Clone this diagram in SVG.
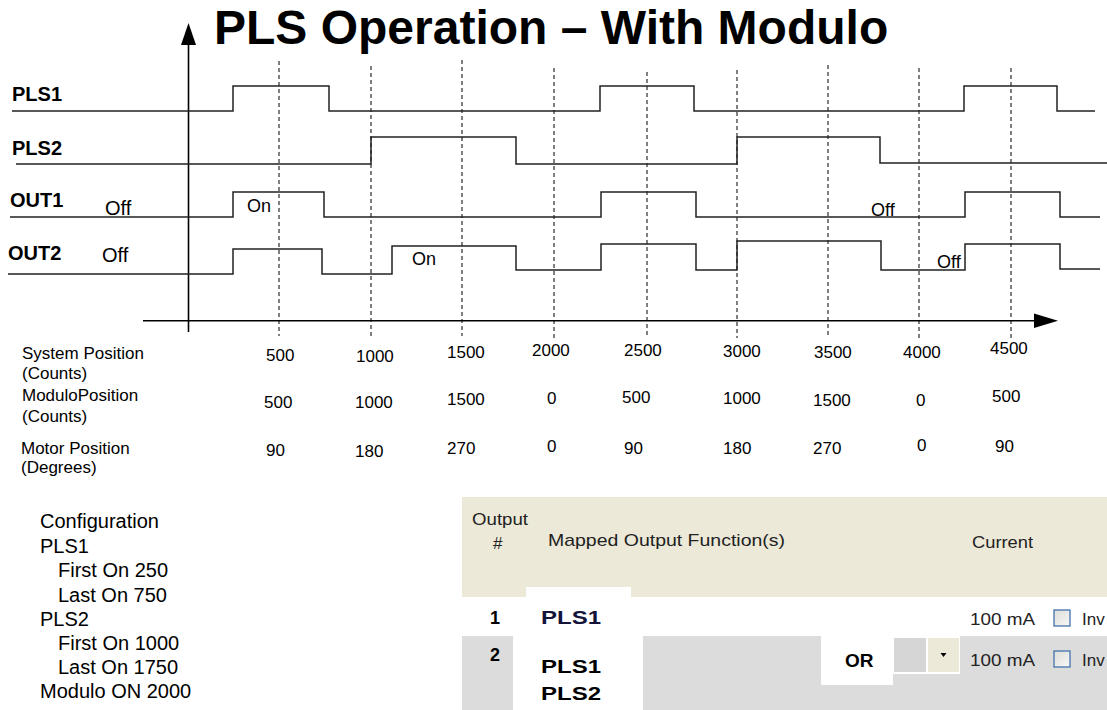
<svg xmlns="http://www.w3.org/2000/svg" width="1107" height="710" viewBox="0 0 1107 710">
<style>
.t{font-family:"Liberation Sans",Arial,sans-serif;fill:#000}
.b{font-weight:bold}
.wave{fill:none;stroke:#222;stroke-width:1.5;stroke-linejoin:miter}
.grid{stroke:#000;stroke-width:1;stroke-dasharray:4 3}
.axis{stroke:#000;stroke-width:1.6}
.num{font-size:17px}
.cfg{font-size:20px}
.tb{font-family:"Liberation Sans",Arial,sans-serif;fill:#222;font-size:17px}
.tbb{font-family:"Liberation Sans",Arial,sans-serif;fill:#000;font-size:18px;font-weight:bold}
.cb{fill:url(#cbg);stroke:#4E7CB0;stroke-width:1.4}
</style>
<defs>
<linearGradient id="cbg" x1="0" y1="0" x2="1" y2="1">
<stop offset="0" stop-color="#DCDCD8"/>
<stop offset="1" stop-color="#F8F8F8"/>
</linearGradient>
</defs>
<rect width="1107" height="710" fill="#fff"/>

<g id="title"><text class="t b" x="214" y="44" font-size="48">PLS Operation – With Modulo</text></g>

<g id="grid">
<line class="grid" x1="279" y1="61" x2="279" y2="336"/>
<line class="grid" x1="371" y1="66" x2="371" y2="338"/>
<line class="grid" x1="462" y1="60" x2="462" y2="336"/>
<line class="grid" x1="554" y1="68" x2="554" y2="338"/>
<line class="grid" x1="647" y1="72" x2="647" y2="338"/>
<line class="grid" x1="737" y1="70" x2="737" y2="338"/>
<line class="grid" x1="828" y1="65" x2="828" y2="336"/>
<line class="grid" x1="919" y1="68" x2="919" y2="338"/>
<line class="grid" x1="1011" y1="68" x2="1011" y2="338"/>
</g>

<g id="axes">
<line class="axis" x1="188.5" y1="44" x2="188.5" y2="332"/>
<polygon points="188.5,23 181,45 196,45" fill="#000"/>
<line class="axis" x1="143" y1="320.7" x2="1036" y2="320.7"/>
<polygon points="1034,313.5 1058,320.7 1034,328" fill="#000"/>
</g>

<g id="connectors">
<polyline id="pls1-wave" class="wave" points="12,111 233,111 233,86 329,86 329,111 600,111 600,86 694,86 694,111 964,111 964,86 1057,86 1057,111 1095,111"/>
<polyline id="pls2-wave" class="wave" points="16,164 371,164 371,137 516,137 516,164 737,164 737,137 880,137 880,163 1107,163"/>
<polyline id="out1-wave" class="wave" points="10,217 233,217 233,192 324,192 324,217 601,217 601,192 696,192 696,217 965,217 965,192 1060,192 1060,217 1100,217"/>
<polyline id="out2-wave" class="wave" points="8,274 233,274 233,249 322,249 322,274 392,274 392,246 516,246 516,270 601,270 601,244 696,244 696,270 737,270 737,241 881,241 881,270 965,270 965,244 1060,244 1060,269 1100,269"/>
</g>

<g id="signal-labels">
<text class="t b" x="12" y="101" font-size="20">PLS1</text>
<text class="t b" x="12" y="155" font-size="20">PLS2</text>
<text class="t b" x="10" y="207" font-size="20">OUT1</text>
<text class="t b" x="8" y="260" font-size="20">OUT2</text>
<text class="t" x="105" y="215" font-size="20">Off</text>
<text class="t" x="102" y="262" font-size="20">Off</text>
<text class="t" x="247" y="212" font-size="18">On</text>
<text class="t" x="412" y="265" font-size="18">On</text>
<text class="t" x="871" y="216" font-size="18">Off</text>
<text class="t" x="937" y="268" font-size="18">Off</text>
</g>

<g id="position-table">
<text class="t num" x="22" y="359">System Position</text>
<text class="t num" x="22" y="379">(Counts)</text>
<text class="t num" x="22" y="401">ModuloPosition</text>
<text class="t num" x="22" y="422">(Counts)</text>
<text class="t num" x="21" y="454">Motor Position</text>
<text class="t num" x="21" y="473">(Degrees)</text>

<text class="t num" x="266" y="361">500</text>
<text class="t num" x="356" y="362">1000</text>
<text class="t num" x="447" y="358">1500</text>
<text class="t num" x="532" y="356">2000</text>
<text class="t num" x="624" y="356">2500</text>
<text class="t num" x="723" y="357">3000</text>
<text class="t num" x="814" y="358">3500</text>
<text class="t num" x="903" y="358">4000</text>
<text class="t num" x="990" y="354">4500</text>

<text class="t num" x="264" y="408">500</text>
<text class="t num" x="355" y="408">1000</text>
<text class="t num" x="447" y="405">1500</text>
<text class="t num" x="547" y="404">0</text>
<text class="t num" x="622" y="403">500</text>
<text class="t num" x="723" y="404">1000</text>
<text class="t num" x="813" y="406">1500</text>
<text class="t num" x="916" y="406">0</text>
<text class="t num" x="992" y="402">500</text>

<text class="t num" x="266" y="456">90</text>
<text class="t num" x="355" y="457">180</text>
<text class="t num" x="447" y="454">270</text>
<text class="t num" x="547" y="452">0</text>
<text class="t num" x="624" y="454">90</text>
<text class="t num" x="723" y="454">180</text>
<text class="t num" x="813" y="454">270</text>
<text class="t num" x="917" y="451">0</text>
<text class="t num" x="995" y="452">90</text>
</g>

<g id="configuration">
<text class="t cfg" x="40" y="528">Configuration</text>
<text class="t cfg" x="40" y="553">PLS1</text>
<text class="t cfg" x="58" y="577">First On 250</text>
<text class="t cfg" x="58" y="601.5">Last On 750</text>
<text class="t cfg" x="40" y="626">PLS2</text>
<text class="t cfg" x="58" y="649.5">First On 1000</text>
<text class="t cfg" x="58" y="673.5">Last On 1750</text>
<text class="t cfg" x="40" y="697.5">Modulo ON 2000</text>
</g>

<g id="output-grid">
<rect x="462" y="497" width="645" height="100" fill="#ECE9D8"/>
<rect x="526" y="587" width="105" height="10" fill="#fff"/>
<rect x="462" y="636" width="51" height="74" fill="#DCDCDC"/>
<rect x="643" y="636" width="464" height="74" fill="#DCDCDC"/>
<rect x="821" y="636" width="72" height="49" fill="#fff"/>
<rect x="893" y="636" width="67" height="38" fill="#fff"/>
<rect x="894" y="638" width="32" height="34" fill="#D6D6D6"/>
<rect x="928" y="638" width="31" height="34" fill="#ECE9D8"/>
<polygon points="940.5,653 946.5,653 943.5,657" fill="#000"/>

<text class="tb" x="472" y="525" textLength="56" lengthAdjust="spacingAndGlyphs">Output</text>
<text class="tb" x="493" y="549">#</text>
<text class="tb" x="548" y="546" textLength="237" lengthAdjust="spacingAndGlyphs">Mapped Output Function(s)</text>
<text class="tb" x="972" y="548" textLength="61" lengthAdjust="spacingAndGlyphs">Current</text>

<text class="tbb" x="490" y="624">1</text>
<text class="tbb" x="541" y="624" textLength="60" lengthAdjust="spacingAndGlyphs" style="fill:#14143a">PLS1</text>
<text class="tb" x="970" y="625" textLength="65" lengthAdjust="spacingAndGlyphs">100 mA</text>
<rect class="cb" x="1054" y="610" width="16" height="16"/>
<text class="tb" x="1082" y="625">Inv</text>

<text class="tbb" x="490" y="661">2</text>
<text class="tbb" x="541" y="673" textLength="60" lengthAdjust="spacingAndGlyphs">PLS1</text>
<text class="tbb" x="541" y="700" textLength="60" lengthAdjust="spacingAndGlyphs">PLS2</text>
<text class="tbb" x="845" y="667" style="font-size:19px">OR</text>
<text class="tb" x="970" y="666" textLength="65" lengthAdjust="spacingAndGlyphs">100 mA</text>
<rect class="cb" x="1054" y="651" width="16" height="16"/>
<text class="tb" x="1082" y="666">Inv</text>
</g>
</svg>
